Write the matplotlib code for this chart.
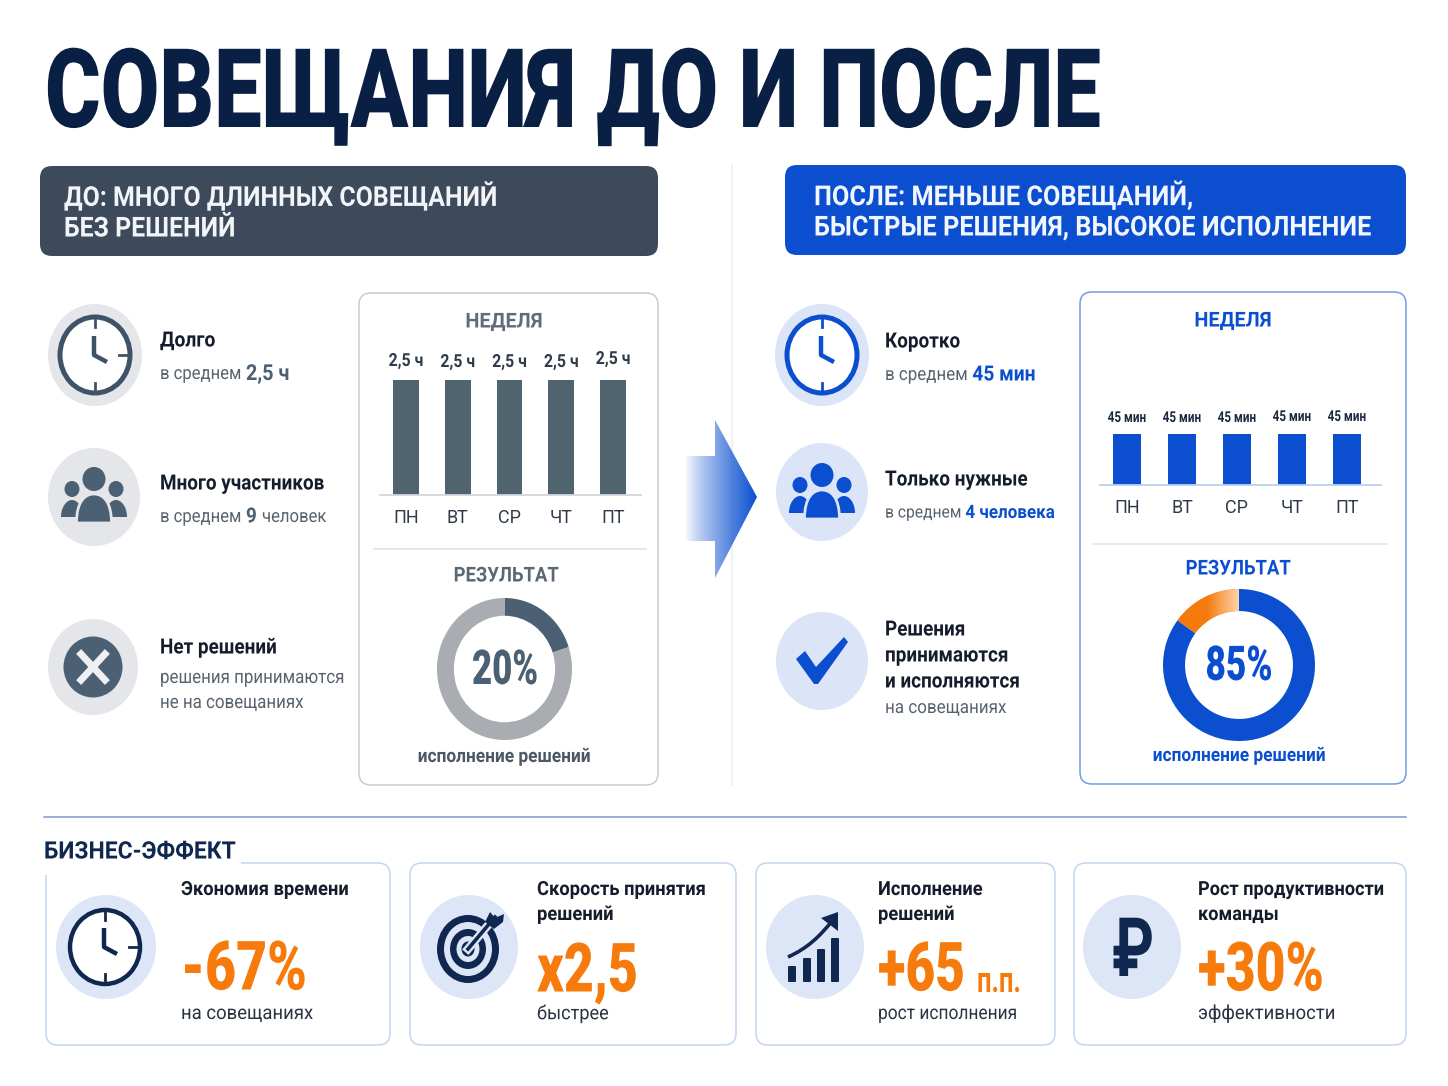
import numpy as np
import matplotlib
matplotlib.use('Agg')
import matplotlib.pyplot as plt
from matplotlib.patches import Ellipse, FancyBboxPatch, Polygon, PathPatch, Rectangle
from matplotlib.path import Path
from matplotlib.patheffects import AbstractPathEffect
from matplotlib.transforms import Affine2D, Bbox
from matplotlib.colors import LinearSegmentedColormap, to_rgb

plt.rcParams['font.family'] = ['Roboto', 'DejaVu Sans']

# data
days = ['ПН', 'ВТ', 'СР', 'ЧТ', 'ПТ']
hours_before = [2.5, 2.5, 2.5, 2.5, 2.5]
minutes_after = [45, 45, 45, 45, 45]
done_before = [20, 80]
done_after = [85, 15]

NAVY = '#10284f'
SLATE = '#4b6072'
BLUE = '#0b4fd0'
ORANGE = '#f67a0c'
DARK = '#151d2c'
GREY = '#59636e'
W, H = 1448, 1086

fig = plt.figure(figsize=(W / 100, H / 100), dpi=100, facecolor='white')
ax = fig.add_axes([0, 0, 1, 1])
ax.set_xlim(0, W)
ax.set_ylim(H, 0)
ax.axis('off')
rend = fig.canvas.get_renderer()


class Squeeze(AbstractPathEffect):
    # the reference type is condensed and no condensed face is installed
    def __init__(self, sx, x0):
        super().__init__()
        self.sx = sx
        self.x0 = x0

    def draw_path(self, renderer, gc, tpath, affine, rgbFace=None):
        aff = affine + Affine2D().translate(-self.x0, 0).scale(self.sx, 1).translate(self.x0, 0)
        renderer.draw_path(gc, tpath, aff, rgbFace)


def squeeze(t, sx, x0):
    t.set_path_effects([Squeeze(sx, x0)])
    plain = t.get_window_extent

    def extent(renderer=None, dpi=None):
        b = plain(renderer, dpi)
        return Bbox([[x0 + (b.x0 - x0) * sx, b.y0], [x0 + (b.x1 - x0) * sx, b.y1]])
    t.get_window_extent = extent


def sub_axes(x0, y0, x1, y1):
    # axes placed by picture pixels
    return fig.add_axes([x0 / W, 1 - y1 / H, (x1 - x0) / W, (y1 - y0) / H])


def txt(x, y, s, size, color=DARK, weight='normal', ha='left', sx=1.0, width=None, family=None, zorder=5):
    t = ax.text(x, y + 1, s, fontsize=size * 0.72, color=color, fontweight=weight, ha=ha, va='center',
                family=family or plt.rcParams['font.family'], zorder=zorder)
    if width is not None:
        sx = width / t.get_window_extent(rend).width
    squeeze(t, sx, x)
    return t


def runs(x, y, parts, sx=0.9):
    # several styles on one line, each part starts where the last one ended
    for s, size, color, weight in parts:
        t = txt(x, y, s, size, color, weight, sx=sx)
        x = t.get_window_extent(rend).x1 + size * 0.25


def box(x0, y0, x1, y1, edge, face='white', lw=1.1, r=12):
    ax.add_patch(FancyBboxPatch((x0 + r, y0 + r), x1 - x0 - 2 * r, y1 - y0 - 2 * r,
                                boxstyle='round,pad=%d,rounding_size=%d' % (r, r),
                                fc=face, ec=edge, lw=lw, zorder=1))


def disc(cx, cy, rx, ry, color, z=2):
    ax.add_patch(Ellipse((cx, cy), 2 * rx, 2 * ry, fc=color, ec='none', zorder=z))


def clock(cx, cy, rx, ry, color, lw=3.6, side_tick=True):
    ax.add_patch(Ellipse((cx, cy), 2 * rx, 2 * ry, fc='white', ec=color, lw=lw, zorder=3))
    ax.plot([cx, cx], [cy - ry, cy - ry + 10], color=color, lw=2, zorder=4)
    ax.plot([cx, cx], [cy + ry, cy + ry - 10], color=color, lw=2, zorder=4)
    if side_tick:
        ax.plot([cx + rx, cx + rx - 11], [cy, cy], color=color, lw=2, zorder=4)
    ax.plot([cx - 1, cx - 1, cx + 12], [cy - 19, cy, cy + 7], color=color, lw=3.2, zorder=4,
            solid_joinstyle='round', solid_capstyle='butt')


def arch(x0, x1, top, bottom, color, edge='none', z=3):
    m = (x0 + x1) / 2
    verts = [(x0, bottom), (x0, top + 7), (x0 + (m - x0) * 0.5, top), (m, top),
             (x1 - (x1 - m) * 0.5, top), (x1, top + 7), (x1, bottom), (x0, bottom)]
    codes = [Path.MOVETO, Path.CURVE4, Path.CURVE4, Path.CURVE4, Path.CURVE4, Path.CURVE4, Path.CURVE4, Path.CLOSEPOLY]
    ax.add_patch(PathPatch(Path(verts, codes), fc=color, ec=edge, lw=2, zorder=z))


def people(cx, cy, color, bg):
    for dx in (-22, 22):
        disc(cx + dx, cy - 8, 7.5, 8, color, 3)
        arch(cx + dx - 11, cx + dx + 11, cy + 3, cy + 20, color)
    disc(cx, cy - 18, 11.5, 12, color, 5)
    arch(cx - 17.5, cx + 17.5, cy - 3, cy + 26, color, edge=bg, z=4)


def week_bars(rect, xlim, values, top, color, base, labels, nudges, label_size, sx, label_color):
    a = sub_axes(*rect)
    a.bar(range(len(values)), values, width=0.5, color=color, zorder=2)
    a.set_xlim(*xlim)
    a.set_ylim(0, top)
    a.set_xticks(range(len(values)), days, fontsize=18 * 0.72, color='#2d3a48')
    a.tick_params(axis='x', length=0, pad=10)
    a.set_yticks([])
    a.patch.set_alpha(0)
    for side in ('top', 'left', 'right'):
        a.spines[side].set_visible(False)
    a.spines['bottom'].set_color(base)
    a.spines['bottom'].set_linewidth(1.3)
    for i, v in enumerate(values):
        t = a.annotate(labels[i], (i, v), xytext=(0, 9 + nudges[i]), textcoords='offset pixels', ha='center',
                       va='bottom', fontsize=label_size * 0.72, fontweight='bold', color=label_color)
        squeeze(t, sx, a.transData.transform((i, v))[0])
    return a


def donut(rect, values, colors, width):
    a = sub_axes(*rect)
    wedges, _ = a.pie(values, colors=colors, startangle=90, counterclock=False, radius=1,
                      wedgeprops=dict(width=width, linewidth=0))
    a.set_aspect('auto')
    a.set_xlim(-1, 1)
    a.set_ylim(-1, 1)
    a.patch.set_alpha(0)
    return a, wedges


# title
txt(45, 96, 'СОВЕЩАНИЯ ДО И ПОСЛЕ', 110, '#0a1f44', 'black', width=1056)

# header plates
box(40, 166, 658, 256, '#3c4a5c', '#3c4a5c', lw=0)
box(785, 165, 1406, 255, BLUE, BLUE, lw=0)
txt(64, 196, 'ДО: МНОГО ДЛИННЫХ СОВЕЩАНИЙ', 27.5, '#f2f4f7', 'bold', sx=0.905)
txt(64, 228, 'БЕЗ РЕШЕНИЙ', 27.5, '#f2f4f7', 'bold', sx=0.905)
txt(814, 195, 'ПОСЛЕ: МЕНЬШЕ СОВЕЩАНИЙ,', 27.5, '#f2f6ff', 'bold', sx=0.92)
txt(814, 227, 'БЫСТРЫЕ РЕШЕНИЯ, ВЫСОКОЕ ИСПОЛНЕНИЕ', 27.5, '#f2f6ff', 'bold', sx=0.92)

# dividers
ax.plot([732, 732], [165, 785], color='#eceef1', lw=1.1, zorder=0)
ax.plot([44, 1406], [817, 817], color='#7f99d0', lw=1.1, zorder=0)

# left column
disc(95, 355, 47, 51, '#e4e6ea')
clock(95, 355, 35, 38, '#3f5368')
txt(160, 340, 'Долго', 21, DARK, 'bold', sx=0.92)
runs(160, 373, [('в среднем', 18.5, GREY, 'normal'), ('2,5 ч', 22, SLATE, 'bold')])

disc(94, 497, 46, 49, '#e4e6ea')
people(94, 497, SLATE, '#e4e6ea')
txt(160, 483, 'Много участников', 21, DARK, 'bold', sx=0.9)
runs(160, 516, [('в среднем', 18.5, GREY, 'normal'), ('9', 21, SLATE, 'bold'), ('человек', 18.5, GREY, 'normal')])

disc(93, 667, 45, 48, '#e4e6ea')
disc(93, 667, 29.5, 30.5, SLATE, 3)
ax.plot([81, 105], [654, 680], color='#eef0f3', lw=5, zorder=4)
ax.plot([81, 105], [680, 654], color='#eef0f3', lw=5, zorder=4)
txt(160, 647, 'Нет решений', 21, DARK, 'bold', sx=0.9)
txt(160, 677, 'решения принимаются', 19, GREY, sx=0.89)
txt(160, 702, 'не на совещаниях', 19, GREY, sx=0.89)

# left panel
box(359, 293, 658, 785, '#c6ccd4')
txt(504, 321, 'НЕДЕЛЯ', 20.5, '#5f6d7b', 'bold', ha='center', sx=0.97)
week_bars((380, 380, 641, 495), (-0.5, 4.54), hours_before, 2.5, '#50646f', '#d3d7dc',
          ['%s ч' % str(v).replace('.', ',') for v in hours_before], [1, 0, 0, 0, 3], 18, 0.88, '#2e3c4c')
ax.plot([374, 646], [549, 549], color='#dfe2e6', lw=1.2)
txt(506, 575, 'РЕЗУЛЬТАТ', 20.5, '#5a6876', 'bold', ha='center', sx=0.9)
donut((437, 598, 572, 740), done_before, [SLATE, '#a9acb0'], 0.25)
txt(505, 670, '%d%%' % done_before[0], 48, SLATE, 'black', ha='center', width=66).set_zorder(7)
txt(504, 756, 'исполнение решений', 19, '#4b5866', 'bold', ha='center', sx=0.91)

# arrow between columns
grad = np.zeros((2, 200, 4))
grad[..., :3] = to_rgb(BLUE)
grad[..., 3] = np.tile(np.linspace(0, 1, 200) ** 0.8, (2, 1))
arrow = Polygon([(685, 456), (715, 456), (715, 420), (757, 497), (715, 578), (715, 541), (685, 541)],
                transform=ax.transData, fc='none', ec='none')
ax.add_patch(arrow)
im = ax.imshow(grad, extent=(685, 757, 578, 420), aspect='auto', zorder=2)
im.set_clip_path(arrow)
ax.set_xlim(0, W)
ax.set_ylim(H, 0)

# right column
disc(822, 355, 47, 51, '#dbe5f7')
clock(822, 355, 35, 38, BLUE, side_tick=False)
txt(885, 341, 'Коротко', 21, DARK, 'bold', sx=0.9)
runs(885, 374, [('в среднем', 18.5, GREY, 'normal'), ('45 мин', 21, BLUE, 'bold')], sx=0.915)

disc(822, 492, 46, 49, '#dbe5f7')
people(822, 493, BLUE, '#dbe5f7')
txt(885, 479, 'Только нужные', 21, DARK, 'bold', sx=0.9)
runs(885, 512, [('в среднем', 17, GREY, 'normal'), ('4 человека', 18.5, BLUE, 'bold')], sx=0.92)

disc(822, 661, 46, 49, '#dbe5f7')
ax.add_patch(Polygon([(796, 659), (805, 651), (816, 667), (844, 637), (848, 642), (818, 684), (814, 684)],
                     fc=BLUE, ec='none', zorder=4))
txt(885, 629, 'Решения', 21, DARK, 'bold', sx=0.9)
txt(885, 655, 'принимаются', 21, DARK, 'bold', sx=0.9)
txt(885, 681, 'и исполняются', 21, DARK, 'bold', sx=0.9)
txt(885, 707, 'на совещаниях', 18.5, GREY, sx=0.92)

# right panel
box(1080, 292, 1406, 784, '#6f9be8')
txt(1233, 320, 'НЕДЕЛЯ', 20.5, BLUE, 'bold', ha='center', sx=0.97)
week_bars((1100, 434, 1381, 485), (-0.49, 4.62), minutes_after, 45, BLUE, '#bcd0f2',
          ['%d мин' % v for v in minutes_after], [0, 0, 0, 1, 1], 15, 0.78, '#1c2a40')
ax.plot([1094, 1387], [544, 544], color='#dbe5f5', lw=1.2)
txt(1238, 568, 'РЕЗУЛЬТАТ', 20.5, BLUE, 'bold', ha='center', sx=0.9)
da, wedges = donut((1163, 589, 1315, 741), done_after, [BLUE, ORANGE], 0.29)
cmap = LinearSegmentedColormap.from_list('fade', [ORANGE, ORANGE, '#fdd3ac'])
fade = da.imshow(np.linspace(0, 1, 100).reshape(1, -1), cmap=cmap, extent=(-0.85, 0, 0.5, 1), aspect='auto', zorder=3)
fade.set_clip_path(wedges[1])
da.set_xlim(-1, 1)
da.set_ylim(-1, 1)
txt(1239, 666, '%d%%' % done_after[0], 48, BLUE, 'black', ha='center', width=67).set_zorder(7)
txt(1239, 755, 'исполнение решений', 19, BLUE, 'bold', ha='center', sx=0.91)

# business effect cards
box(46, 863, 390, 1045, '#c3d4f2')
box(410, 863, 736, 1045, '#c3d4f2')
box(756, 863, 1055, 1045, '#c3d4f2')
box(1074, 863, 1406, 1045, '#c3d4f2')
ax.add_patch(Rectangle((38, 838), 203, 37, fc='white', ec='none', zorder=2))
txt(44, 851, 'БИЗНЕС-ЭФФЕКТ', 24, NAVY, 'bold', sx=0.955)

# time card
disc(106, 947, 50, 52, '#dce6f7')
clock(105, 947, 35, 37, NAVY, lw=3.2)
txt(181, 889, 'Экономия времени', 19.5, DARK, 'bold', sx=0.94)
txt(181, 970, '-67%', 68, ORANGE, 'black', width=126)
txt(181, 1013, 'на совещаниях', 19.5, '#2a3442', sx=0.95)

# target card
disc(469, 947, 49, 52, '#dce6f7')
for rx, ry, fc in [(31, 34, NAVY), (24, 27, '#dce6f7'), (18, 20, NAVY), (11.5, 13, '#dce6f7'), (6.5, 7.5, NAVY)]:
    ax.add_patch(Ellipse((468, 949), 2 * rx, 2 * ry, fc=fc, ec='none', zorder=3))
ax.plot([468, 495], [949, 917], color='#dce6f7', lw=6, zorder=4)
ax.plot([468, 495], [949, 917], color=NAVY, lw=2.6, zorder=5)
ax.add_patch(Polygon([(485, 922), (490, 912), (495, 918), (504, 914), (503, 922), (494, 929)], fc=NAVY, ec='none', zorder=5))
txt(537, 889, 'Скорость принятия', 19.5, DARK, 'bold', sx=0.94)
txt(537, 914, 'решений', 19.5, DARK, 'bold', sx=0.94)
txt(537, 972, 'x2,5', 68, ORANGE, 'black', width=101)
txt(537, 1013, 'быстрее', 19.5, '#2a3442', sx=0.93)

# growth card
disc(815, 947, 49, 52, '#dce6f7')
for x0, y0 in [(788, 966), (803, 958), (817, 949), (831, 938)]:
    ax.add_patch(FancyBboxPatch((x0 + 1, y0 + 1), 6, 980 - y0, boxstyle='round,pad=1', fc=NAVY, ec='none', zorder=3))
curve = Path([(788, 957), (808, 948), (820, 936), (832, 921)], [Path.MOVETO, Path.CURVE4, Path.CURVE4, Path.CURVE4])
ax.add_patch(PathPatch(curve, fc='none', ec=NAVY, lw=2.6, zorder=4))
ax.add_patch(Polygon([(821, 918), (838, 912), (838, 931)], fc=NAVY, ec='none', zorder=4))
txt(878, 889, 'Исполнение', 19.5, DARK, 'bold', sx=0.94)
txt(878, 914, 'решений', 19.5, DARK, 'bold', sx=0.94)
txt(878, 971, '+65', 68, ORANGE, 'black', width=87)
txt(977, 981, 'п.п.', 36, ORANGE, 'bold', width=44)
txt(878, 1013, 'рост исполнения', 19.5, '#2a3442', sx=0.89)

# rouble card
disc(1132, 947, 49, 52, '#dce6f7')
txt(1133, 953, '₽', 82, NAVY, 'bold', ha='center', width=42)
txt(1198, 889, 'Рост продуктивности', 19.5, DARK, 'bold', sx=0.93)
txt(1198, 914, 'команды', 19.5, DARK, 'bold', sx=0.93)
txt(1198, 971, '+30%', 68, ORANGE, 'black', width=126)
txt(1198, 1013, 'эффективности', 19.5, '#2a3442', sx=0.95)

fig.savefig('out.png', dpi=100)
